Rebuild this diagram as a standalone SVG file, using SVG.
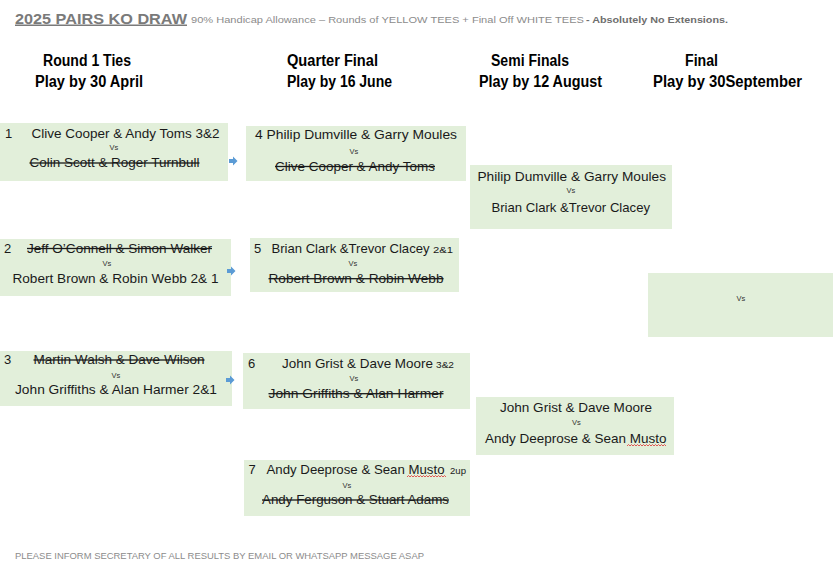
<svg xmlns="http://www.w3.org/2000/svg" width="840" height="563" viewBox="0 0 840 563">
<style>
.bg{fill:#ffffff}
.box{fill:#e2efda}
.t{font-family:"Liberation Sans",Arial,sans-serif;font-size:13px;fill:#1a1a1a}
.s{text-decoration:line-through}
.vs{font-family:"Liberation Sans",Arial,sans-serif;font-size:7.5px;fill:#333;text-anchor:middle}
.sm{font-family:"Liberation Sans",Arial,sans-serif;font-size:9px;fill:#1a1a1a}
.h{font-family:"Liberation Sans",Arial,sans-serif;font-size:16px;font-weight:bold;fill:#000}
.title{font-family:"Liberation Sans",Arial,sans-serif;font-size:15px;font-weight:bold;fill:#7a7a7a;text-decoration:underline}
.sub{font-family:"Liberation Sans",Arial,sans-serif;font-size:9.5px;fill:#8c8c8c}
.subb{font-weight:bold;fill:#6e6e6e}
.foot{font-family:"Liberation Sans",Arial,sans-serif;font-size:9.5px;fill:#8c8c8c}
.arr{fill:#5b9bd5}
.wavy{fill:none;stroke:#e03030;stroke-width:0.8}
</style>
<rect class="bg" x="0" y="0" width="840" height="563"/>

<g id="header">
<text class="title" x="15" y="23.5" textLength="172" lengthAdjust="spacingAndGlyphs">2025 PAIRS KO DRAW</text>
<text class="sub" x="191" y="23"><tspan textLength="393" lengthAdjust="spacingAndGlyphs">90% Handicap Allowance – Rounds of YELLOW TEES + Final Off WHITE TEES</tspan><tspan class="subb" x="586" textLength="142" lengthAdjust="spacingAndGlyphs">- Absolutely No Extensions.</tspan></text>
<text class="h" x="43" y="65.5" textLength="88" lengthAdjust="spacingAndGlyphs">Round 1 Ties</text>
<text class="h" x="35" y="87" textLength="108" lengthAdjust="spacingAndGlyphs">Play by 30 April</text>
<text class="h" x="287" y="65.5" textLength="91" lengthAdjust="spacingAndGlyphs">Quarter Final</text>
<text class="h" x="287" y="87" textLength="105" lengthAdjust="spacingAndGlyphs">Play by 16 June</text>
<text class="h" x="491" y="65.5" textLength="78" lengthAdjust="spacingAndGlyphs">Semi Finals</text>
<text class="h" x="479" y="87" textLength="123" lengthAdjust="spacingAndGlyphs">Play by 12 August</text>
<text class="h" x="685" y="65.5" textLength="33" lengthAdjust="spacingAndGlyphs">Final</text>
<text class="h" x="653" y="87" textLength="149" lengthAdjust="spacingAndGlyphs">Play by 30September</text>
</g>

<g id="r1-1">
<rect class="box" x="0" y="123" width="228" height="58"/>
<text class="t" x="5" y="137.5">1</text>
<text class="t" x="31.5" y="137.5" textLength="188" lengthAdjust="spacingAndGlyphs">Clive Cooper &amp; Andy Toms 3&amp;2</text>
<text class="vs" x="114" y="150">Vs</text>
<text class="t s" x="29.5" y="167" textLength="170" lengthAdjust="spacingAndGlyphs">Colin Scott &amp; Roger Turnbull</text>
</g>

<g id="r1-2">
<rect class="box" x="0" y="239" width="231" height="57"/>
<text class="t" x="4" y="252.5">2</text>
<text class="t s" x="27" y="252.5" textLength="185" lengthAdjust="spacingAndGlyphs">Jeff O’Connell &amp; Simon Walker</text>
<text class="vs" x="107" y="265.5">Vs</text>
<text class="t" x="12.5" y="282.5" textLength="206" lengthAdjust="spacingAndGlyphs">Robert Brown &amp; Robin Webb 2&amp; 1</text>
</g>

<g id="r1-3">
<rect class="box" x="0" y="351" width="232" height="55"/>
<text class="t" x="4" y="364">3</text>
<text class="t s" x="33.5" y="364" textLength="171" lengthAdjust="spacingAndGlyphs">Martin Walsh &amp; Dave Wilson</text>
<text class="vs" x="116" y="377.5">Vs</text>
<text class="t" x="15" y="394.3" textLength="202" lengthAdjust="spacingAndGlyphs">John Griffiths &amp; Alan Harmer 2&amp;1</text>
</g>

<g id="qf-4">
<rect class="box" x="246" y="126" width="220" height="55"/>
<text class="t" x="255" y="139" textLength="202" lengthAdjust="spacingAndGlyphs">4 Philip Dumville &amp; Garry Moules</text>
<text class="vs" x="354" y="153.5">Vs</text>
<text class="t s" x="275" y="170.5" textLength="160" lengthAdjust="spacingAndGlyphs">Clive Cooper &amp; Andy Toms</text>
</g>

<g id="qf-5">
<rect class="box" x="250" y="238" width="209" height="54"/>
<text class="t" x="254" y="252.5">5</text>
<text class="t" x="271.5" y="252.5" textLength="158" lengthAdjust="spacingAndGlyphs">Brian Clark &amp;Trevor Clacey</text>
<text class="sm" x="433" y="252.5" textLength="20" lengthAdjust="spacingAndGlyphs">2&amp;1</text>
<text class="vs" x="353" y="266">Vs</text>
<text class="t s" x="268.5" y="282.7" textLength="175" lengthAdjust="spacingAndGlyphs">Robert Brown &amp; Robin Webb</text>
</g>

<g id="qf-6">
<rect class="box" x="243" y="353" width="227" height="56"/>
<text class="t" x="248" y="367.7">6</text>
<text class="t" x="282" y="367.7" textLength="151" lengthAdjust="spacingAndGlyphs">John Grist &amp; Dave Moore</text>
<text class="sm" x="436" y="367.7" textLength="18" lengthAdjust="spacingAndGlyphs">3&amp;2</text>
<text class="vs" x="354" y="381">Vs</text>
<text class="t s" x="268.5" y="397.7" textLength="175" lengthAdjust="spacingAndGlyphs">John Griffiths &amp; Alan Harmer</text>
</g>

<g id="qf-7">
<rect class="box" x="244" y="460" width="226" height="56"/>
<text class="t" x="248.5" y="474">7</text>
<text class="t" x="266.5" y="474" textLength="178" lengthAdjust="spacingAndGlyphs">Andy Deeprose &amp; Sean Musto</text>
<text class="sm" x="450" y="474" textLength="16" lengthAdjust="spacingAndGlyphs">2up</text>
<text class="vs" x="347" y="487.7">Vs</text>
<text class="t s" x="262" y="504" textLength="187" lengthAdjust="spacingAndGlyphs">Andy Ferguson &amp; Stuart Adams</text>
<path class="wavy" d="M407,477 l1.5,-1.5 l1.5,1.5 l1.5,-1.5 l1.5,1.5 l1.5,-1.5 l1.5,1.5 l1.5,-1.5 l1.5,1.5 l1.5,-1.5 l1.5,1.5 l1.5,-1.5 l1.5,1.5 l1.5,-1.5 l1.5,1.5 l1.5,-1.5 l1.5,1.5 l1.5,-1.5 l1.5,1.5 l1.5,-1.5 l1.5,1.5 l1.5,-1.5 l1.5,1.5 l1.5,-1.5 l1.5,1.5 l1.5,-1.5 l1.5,1.5"/>
</g>

<g id="sf-1">
<rect class="box" x="470" y="165" width="202" height="64"/>
<text class="t" x="477.5" y="180.7" textLength="188.5" lengthAdjust="spacingAndGlyphs">Philip Dumville &amp; Garry Moules</text>
<text class="vs" x="571" y="193">Vs</text>
<text class="t" x="491.5" y="211.5" textLength="158.5" lengthAdjust="spacingAndGlyphs">Brian Clark &amp;Trevor Clacey</text>
</g>

<g id="sf-2">
<rect class="box" x="476" y="397" width="198" height="58"/>
<text class="t" x="500" y="411.7" textLength="152" lengthAdjust="spacingAndGlyphs">John Grist &amp; Dave Moore</text>
<text class="vs" x="576.5" y="424.5">Vs</text>
<text class="t" x="485" y="442.5" textLength="181.5" lengthAdjust="spacingAndGlyphs">Andy Deeprose &amp; Sean Musto</text>
<path class="wavy" d="M627,446 l1.5,-1.5 l1.5,1.5 l1.5,-1.5 l1.5,1.5 l1.5,-1.5 l1.5,1.5 l1.5,-1.5 l1.5,1.5 l1.5,-1.5 l1.5,1.5 l1.5,-1.5 l1.5,1.5 l1.5,-1.5 l1.5,1.5 l1.5,-1.5 l1.5,1.5 l1.5,-1.5 l1.5,1.5 l1.5,-1.5 l1.5,1.5 l1.5,-1.5 l1.5,1.5 l1.5,-1.5 l1.5,1.5 l1.5,-1.5 l1.5,1.5"/>
</g>

<g id="final">
<rect class="box" x="648" y="273" width="185" height="64"/>
<text class="vs" x="741" y="301">Vs</text>
</g>

<g id="connectors">
<path class="arr" d="M229,159 h4 v-2.5 l4.5,4.5 l-4.5,4.5 v-2.5 h-4 z"/>
<path class="arr" d="M227,269 h4 v-2.5 l4.5,4.5 l-4.5,4.5 v-2.5 h-4 z"/>
<path class="arr" d="M226,378 h4 v-2.5 l4.5,4.5 l-4.5,4.5 v-2.5 h-4 z"/>
</g>

<text class="foot" x="15" y="559" textLength="409" lengthAdjust="spacingAndGlyphs">PLEASE INFORM SECRETARY OF ALL RESULTS BY EMAIL OR WHATSAPP MESSAGE ASAP</text>
</svg>
